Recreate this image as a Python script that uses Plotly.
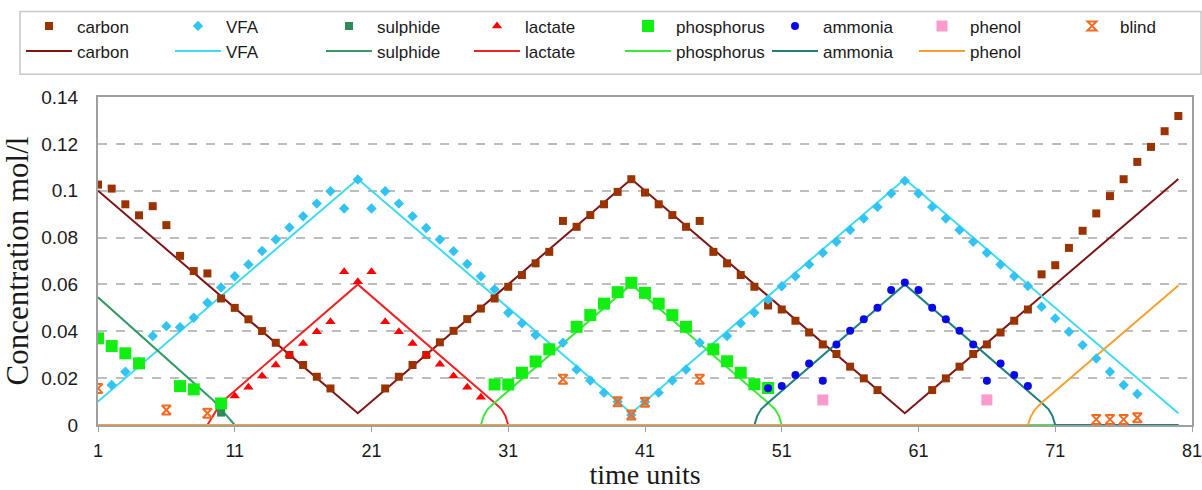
import plotly.graph_objects as go

# ---------------- measured data (markers) ----------------
carbon_t = list(range(1, 19)) + list(range(22, 59)) + list(range(62, 81))
carbon_v = [0.1026, 0.1009, 0.0942, 0.0895, 0.0934, 0.0853, 0.0722, 0.0657, 0.0647, 0.0540,
            0.0500, 0.0451, 0.0401, 0.0351, 0.0299, 0.0256, 0.0206, 0.0156,
            0.0156, 0.0206, 0.0256, 0.0299, 0.0353, 0.0402, 0.0452, 0.0497, 0.0540, 0.0590,
            0.0640, 0.0690, 0.0739, 0.0871, 0.0846, 0.0896, 0.0942, 0.0995, 0.1049, 0.0992,
            0.0942, 0.0896, 0.0846, 0.0871, 0.0739, 0.0690, 0.0640, 0.0590, 0.0510, 0.0493,
            0.0445, 0.0395, 0.0344, 0.0303, 0.0249, 0.0199, 0.0149,
            0.0149, 0.0199, 0.0249, 0.0303, 0.0344, 0.0395, 0.0445, 0.0493, 0.0643, 0.0682,
            0.0756, 0.0829, 0.0903, 0.0977, 0.1049, 0.1123, 0.1187, 0.1254, 0.1319]

vfa_t = list(range(2, 78))
vfa_v = [0.0171, 0.0227, 0.0270, 0.0380, 0.0422, 0.0417, 0.0458, 0.0522, 0.0587, 0.0635,
         0.0685, 0.0743, 0.0792, 0.0843, 0.0891, 0.0945, 0.0998, 0.0924, 0.1048, 0.0924,
         0.0998, 0.0945, 0.0891, 0.0841, 0.0792, 0.0742, 0.0687, 0.0635, 0.0579, 0.0479,
         0.0434, 0.0384, 0.0330, 0.0351, 0.0237, 0.0190, 0.0138, 0.0099, 0.0043, 0.0099,
         0.0138, 0.0190, 0.0237, 0.0351, 0.0330, 0.0380, 0.0434, 0.0479, 0.0535, 0.0592,
         0.0635, 0.0685, 0.0735, 0.0782, 0.0832, 0.0881, 0.0931, 0.0988, 0.1042, 0.0988,
         0.0931, 0.0881, 0.0832, 0.0782, 0.0735, 0.0685, 0.0635, 0.0593, 0.0505, 0.0455,
         0.0398, 0.0341, 0.0284, 0.0227, 0.0171, 0.0132]

sulphide_t = [10]
sulphide_v = [0.0053]

lactate_t = list(range(11, 30))
lactate_v = [0.0124, 0.0161, 0.0209, 0.0256, 0.0299, 0.0348, 0.0398, 0.0441, 0.0654, 0.0611,
             0.0654, 0.0441, 0.0398, 0.0348, 0.0299, 0.0259, 0.0209, 0.0161, 0.0118]

phosphorus_t = [1, 2, 3, 4, 7, 8, 10, 30, 31, 32, 33, 34, 36, 37, 38, 39, 40, 41, 42, 43, 44,
                46, 47, 48, 49, 50]
phosphorus_v = [0.0370, 0.0337, 0.0306, 0.0263, 0.0166, 0.0152, 0.0092, 0.0173, 0.0173, 0.0223,
                0.0271, 0.0323, 0.0419, 0.0469, 0.0518, 0.0567, 0.0607, 0.0564, 0.0518, 0.0469,
                0.0419, 0.0323, 0.0272, 0.0223, 0.0174, 0.0158]

ammonia_t = list(range(50, 70))
ammonia_v = [0.0157, 0.0166, 0.0213, 0.0263, 0.0189, 0.0344, 0.0402, 0.0451, 0.0500, 0.0576,
             0.0608, 0.0576, 0.0500, 0.0451, 0.0402, 0.0344, 0.0189, 0.0263, 0.0213, 0.0166]

phenol_t = [54, 66]
phenol_v = [0.0107, 0.0107]

blind_t = [1, 6, 9, 35, 39, 40, 41, 45, 74, 75, 76, 77]
blind_v = [0.0156, 0.0064, 0.0050, 0.0195, 0.0099, 0.0043, 0.0097, 0.0195, 0.0024, 0.0024,
           0.0024, 0.0031]

# ---------------- model lines (vertices) ----------------
carbon_line_t = [1, 20, 40, 60, 80]
carbon_line_v = [0.100, 0.005, 0.105, 0.005, 0.105]

vfa_line_t = [1, 20, 40, 60, 80]
vfa_line_v = [0.010, 0.105, 0.005, 0.105, 0.005]

sulphide_line_t = [1, 9.4, 11, 80]
sulphide_line_v = [0.0545, 0.0107, 0.0, 0.0]

lactate_line_t = [1, 9, 10, 20, 30, 30.5, 30.8, 31, 80]
lactate_line_v = [0.0, 0.0, 0.0095, 0.060, 0.0095, 0.0068, 0.0038, 0.0, 0.0]

phosphorus_line_t = [1, 29, 29.2, 29.5, 30, 40, 50, 50.5, 50.8, 51, 80]
phosphorus_line_v = [0.0, 0.0, 0.0038, 0.0068, 0.0095, 0.060, 0.0095, 0.0068, 0.0038, 0.0, 0.0]

ammonia_line_t = [1, 49, 49.2, 49.5, 50, 60, 70, 70.5, 70.8, 71, 80]
ammonia_line_v = [0.0, 0.0, 0.0038, 0.0068, 0.0095, 0.060, 0.0095, 0.0068, 0.0038, 0.0, 0.0]

phenol_line_t = [1, 69, 69.2, 69.5, 70, 80]
phenol_line_v = [0.0, 0.0, 0.0035, 0.0065, 0.0095, 0.0595]

x_ticks = [1, 11, 21, 31, 41, 51, 61, 71, 81]

# ---------------- figure ----------------
fig = go.Figure()

# legend column for each substance (marker entry above line entry)
legend_ids = {"carbon": "legend", "VFA": "legend2", "sulphide": "legend3",
              "lactate": "legend4", "phosphorus": "legend5", "ammonia": "legend6",
              "phenol": "legend7", "blind": "legend8"}
legend_cols_px = {"legend": 46, "legend2": 195, "legend3": 346, "legend4": 494,
                  "legend5": 645, "legend6": 792, "legend7": 939, "legend8": 1089}

lines = [
    ("carbon", carbon_line_t, carbon_line_v, "#7F1414"),
    ("VFA", vfa_line_t, vfa_line_v, "#3DDAF2"),
    ("sulphide", sulphide_line_t, sulphide_line_v, "#339966"),
    ("lactate", lactate_line_t, lactate_line_v, "#EE2222"),
    ("phosphorus", phosphorus_line_t, phosphorus_line_v, "#3BE83B"),
    ("ammonia", ammonia_line_t, ammonia_line_v, "#217F80"),
    ("phenol", phenol_line_t, phenol_line_v, "#F5A030"),
]
for name, t, v, col in lines:
    fig.add_trace(go.Scatter(x=t, y=v, mode="lines", name=name,
                             line=dict(color=col, width=2),
                             legend=legend_ids[name], legendrank=2))

markers = [
    ("carbon", carbon_t, carbon_v, "#993300", "square", 8, None),
    ("VFA", vfa_t, vfa_v, "#33C3F3", "diamond", 8, None),
    ("sulphide", sulphide_t, sulphide_v, "#2E8B57", "square", 8, None),
    ("lactate", lactate_t, lactate_v, "#FF0000", "triangle-up", 9, None),
    ("phosphorus", phosphorus_t, phosphorus_v, "#11EE11", "square", 12, None),
    ("ammonia", ammonia_t, ammonia_v, "#0A0AE6", "circle", 8, None),
    ("phenol", phenol_t, phenol_v, "#F99BCB", "square", 11, None),
    ("blind", blind_t, blind_v, "#F26B21", "hourglass-open", 9, 2),
]
for name, t, v, col, sym, size, lw in markers:
    mk = dict(color=col, symbol=sym, size=size)
    if lw:
        mk["line"] = dict(color=col, width=lw)
    else:
        mk["line"] = dict(width=0)
    fig.add_trace(go.Scatter(x=t, y=v, mode="markers", name=name,
                             marker=mk, legend=legend_ids[name], legendrank=1))

# plot area in pixels: x 98..1192
PLOT_L, PLOT_W = 98, 1094
legends = {}
for lid, cx in legend_cols_px.items():
    legends[lid] = dict(orientation="v", xref="paper", yref="container",
                        xanchor="left", yanchor="top", itemwidth=46,
                        x=(cx - 25 - PLOT_L) / PLOT_W, y=0.983,
                        bgcolor="rgba(0,0,0,0)", borderwidth=0, tracegroupgap=0,
                        font=dict(family="Liberation Sans, Arial, sans-serif", size=17,
                                  color="#1A1A1A"),
                        traceorder="normal")

fig.update_layout(
    width=1202, height=490,
    margin=dict(l=98, r=10, t=97, b=65),
    paper_bgcolor="white", plot_bgcolor="white",
    showlegend=True,
    shapes=[dict(type="rect", xref="paper", yref="paper",
                 x0=-0.0713, x1=1.0082, y0=1.0692, y1=1.261,
                 line=dict(color="#C8C8C8", width=1.5), fillcolor="rgba(0,0,0,0)",
                 layer="below")],
    **legends,
)

fig.update_xaxes(range=[1, 81], tickmode="array", tickvals=x_ticks,
                 ticktext=[str(v) for v in x_ticks],
                 showgrid=False, zeroline=False,
                 showline=True, linecolor="#A0A0A0", linewidth=2, mirror=True,
                 ticks="outside", ticklen=5, tickcolor="#A0A0A0", tickwidth=1,
                 ticklabelstandoff=3, ticklabeloverflow="allow",
                 tickfont=dict(family="Liberation Sans, Arial, sans-serif", size=18,
                               color="#1A1A1A"),
                 title=dict(text="time units", standoff=10,
                            font=dict(family="Liberation Serif, Times New Roman, serif",
                                      size=28, color="#1A1A1A")),
                 automargin=False)

fig.update_yaxes(range=[0, 0.14], dtick=0.02, tick0=0,
                 showgrid=True, gridcolor="#BDBDBD", gridwidth=1.5, griddash="dash",
                 zeroline=False,
                 showline=True, linecolor="#A0A0A0", linewidth=2, mirror=True,
                 ticks="", ticklabelstandoff=14,
                 tickfont=dict(family="Liberation Sans, Arial, sans-serif", size=19,
                               color="#1A1A1A"),
                 title=dict(text="Concentration mol/l", standoff=6,
                            font=dict(family="Liberation Serif, Times New Roman, serif",
                                      size=31, color="#1A1A1A")),
                 automargin=False)

fig.write_html("out.html")
